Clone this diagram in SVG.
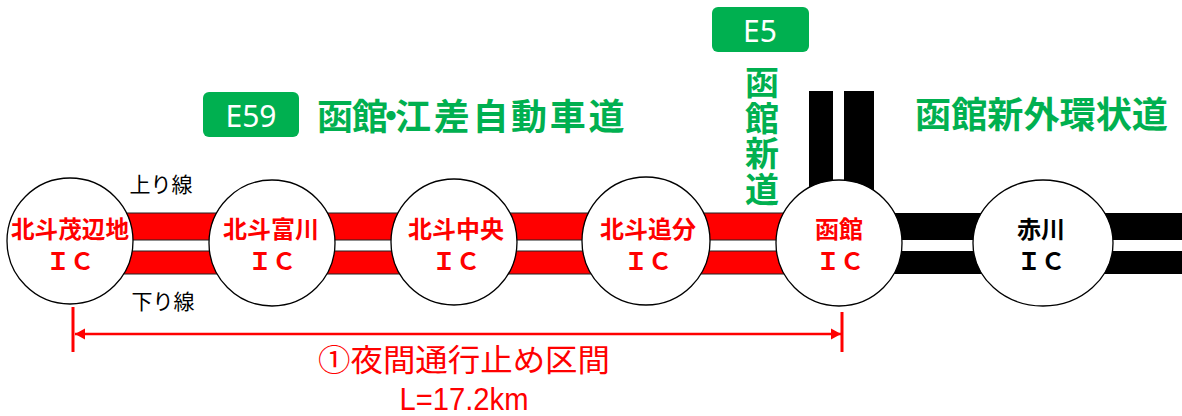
<svg xmlns="http://www.w3.org/2000/svg" width="1182" height="416" viewBox="0 0 1182 416">
<style>
.jp{font-family:"Noto Sans CJK JP","Noto Sans",sans-serif}
.green{fill:#00B050}
.ic{fill:#fff;stroke:#000;stroke-width:1.3}
.lbl{font-size:24px;font-weight:700;text-anchor:middle}
.red{fill:#FF0000}
.blk{fill:#000}
.badge{fill:#00B050}
.badgeText{font-family:"Noto Sans","Liberation Sans",sans-serif;font-size:30px;fill:#fff;text-anchor:middle}
</style>
<defs>
<marker id="arrS" markerWidth="12" markerHeight="12" refX="1" refY="6" orient="auto" markerUnits="userSpaceOnUse">
<path d="M1,6 L11,0.5 L11,11.5 Z" fill="#FF0000"/>
</marker>
<marker id="arrE" markerWidth="12" markerHeight="12" refX="11" refY="6" orient="auto" markerUnits="userSpaceOnUse">
<path d="M11,6 L1,0.5 L1,11.5 Z" fill="#FF0000"/>
</marker>
</defs>
<rect width="1182" height="416" fill="#fff"/>

<g id="connectors">
<rect x="100" y="213" width="739" height="27" fill="#FF0000" stroke="#222" stroke-width="1"/>
<rect x="100" y="251" width="739" height="23" fill="#FF0000" stroke="#222" stroke-width="1"/>
<rect x="839" y="213" width="360" height="27" fill="#000"/>
<rect x="839" y="251" width="360" height="23" fill="#000"/>
<rect x="809" y="91" width="24" height="140" fill="#000"/>
<rect x="844" y="91" width="30" height="140" fill="#000"/>
</g>

<g id="labels-lanes" class="jp" font-size="21" fill="#000">
<text x="161" y="192" text-anchor="middle">上り線</text>
<text x="163" y="309" text-anchor="middle">下り線</text>
</g>

<g id="ic-mohechi">
<circle class="ic" cx="70" cy="241" r="63"/>
<text class="jp lbl red" x="70" y="238" textLength="118" lengthAdjust="spacingAndGlyphs">北斗茂辺地</text>
<text class="jp lbl red" x="70" y="270">ＩＣ</text>
</g>
<g id="ic-tomikawa">
<circle class="ic" cx="272" cy="243" r="63"/>
<text class="jp lbl red" x="271" y="238">北斗富川</text>
<text class="jp lbl red" x="272" y="270">ＩＣ</text>
</g>
<g id="ic-chuo">
<circle class="ic" cx="454" cy="242" r="63"/>
<text class="jp lbl red" x="456" y="238">北斗中央</text>
<text class="jp lbl red" x="456" y="270">ＩＣ</text>
</g>
<g id="ic-oiwake">
<circle class="ic" cx="646" cy="241" r="64"/>
<text class="jp lbl red" x="648" y="238">北斗追分</text>
<text class="jp lbl red" x="648" y="270">ＩＣ</text>
</g>
<g id="ic-hakodate">
<circle class="ic" cx="839" cy="243" r="63"/>
<text class="jp lbl red" x="839" y="238">函館</text>
<text class="jp lbl red" x="840" y="270">ＩＣ</text>
</g>
<g id="ic-akagawa">
<ellipse class="ic" cx="1043" cy="243" rx="70" ry="63"/>
<text class="jp lbl blk" x="1041" y="238">赤川</text>
<text class="jp lbl blk" x="1041" y="270">ＩＣ</text>
</g>

<g id="road-e59">
<rect class="badge" x="203" y="92" width="96" height="45" rx="6"/>
<text class="badgeText" x="251" y="127">E59</text>
<text class="jp green" x="317 352 373 395 433.7 472.4 511 549.8 588.5" y="130" font-size="36" font-weight="700">函館・江差自動車道</text>
</g>

<g id="road-e5">
<rect class="badge" x="712" y="7" width="97" height="45" rx="6"/>
<text class="badgeText" x="760" y="42">E5</text>
<text class="jp green" font-size="34" font-weight="700" text-anchor="middle" x="762 762 762 762" y="95 130.5 166 201.5">函館新道</text>
</g>

<g id="road-outer">
<text class="jp green" x="915" y="128" font-size="36" font-weight="700" textLength="253" lengthAdjust="spacingAndGlyphs">函館新外環状道</text>
</g>

<g id="closure">
<line x1="73" y1="307" x2="73" y2="352" stroke="#FF0000" stroke-width="3"/>
<line x1="842" y1="312" x2="842" y2="352" stroke="#FF0000" stroke-width="3"/>
<line x1="75" y1="334" x2="841" y2="334" stroke="#FF0000" stroke-width="2.5" marker-start="url(#arrS)" marker-end="url(#arrE)"/>
<text class="jp red" x="464" y="371" font-size="31" text-anchor="middle" textLength="292" lengthAdjust="spacingAndGlyphs">①夜間通行止め区間</text>
<text x="464" y="410" font-family="'Liberation Sans',sans-serif" font-size="31" fill="#FF0000" text-anchor="middle" textLength="129" lengthAdjust="spacingAndGlyphs">L=17.2km</text>
</g>
</svg>
